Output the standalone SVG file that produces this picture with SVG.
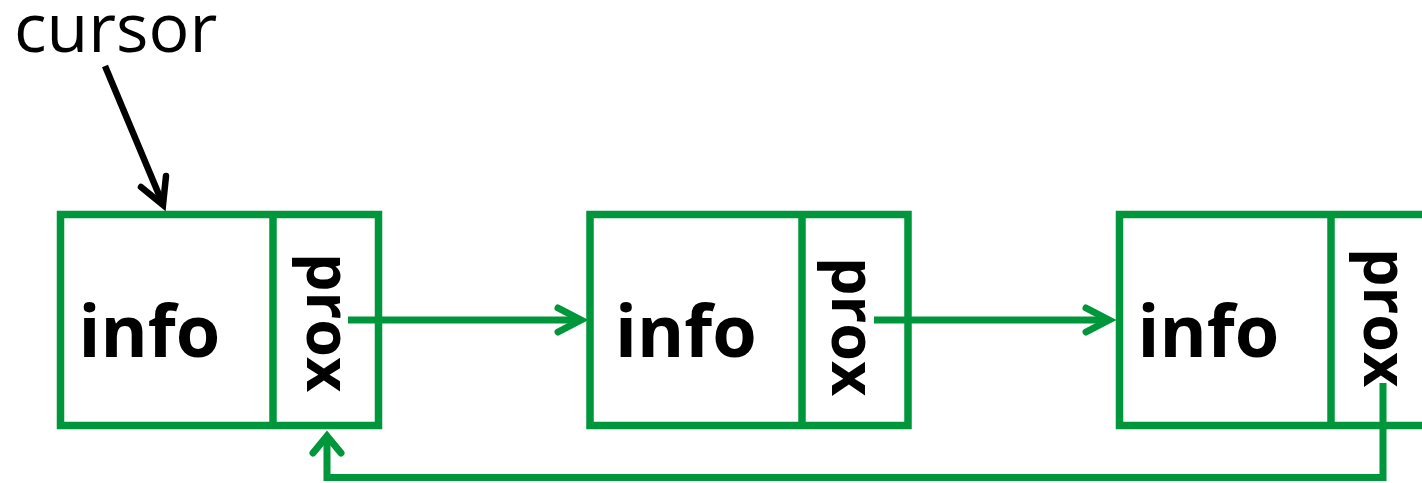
<svg xmlns="http://www.w3.org/2000/svg" width="1422" height="483" viewBox="0 0 1422 483">
<style>
.box{fill:#fff;stroke:#00963B;stroke-width:7.5}
.div{stroke:#00963B;stroke-width:7.5}
.info{font-family:"Open Sans","Noto Sans",sans-serif;font-weight:bold;font-size:72px;fill:#000}
.prox{font-family:"Open Sans","Noto Sans",sans-serif;font-weight:bold;font-size:61px;fill:#000}
.lbl{font-family:"Open Sans","Noto Sans",sans-serif;font-size:68px;fill:#000}
.gl{fill:none;stroke:#00963B;stroke-width:7;stroke-linejoin:miter}
.gh{fill:none;stroke:#00963B;stroke-width:7;stroke-linecap:round;stroke-linejoin:miter}
.bl{fill:none;stroke:#000;stroke-width:6.5}
.bh{fill:none;stroke:#000;stroke-width:6.5;stroke-linecap:round;stroke-linejoin:miter}
</style>
<rect width="1422" height="483" fill="#fff"/>
<g id="cursor">
<text class="lbl" x="14" y="52">cursor</text>
</g>
<g id="node1">
<rect class="box" x="60.5" y="214.5" width="318" height="211"/>
<line class="div" x1="273" y1="214.5" x2="273" y2="425.5"/>
<text class="info" x="78.5" y="357">info</text>
<text class="prox" transform="translate(307,253) rotate(90)">prox</text>
</g>
<g id="node2">
<rect class="box" x="590" y="214.5" width="318" height="211"/>
<line class="div" x1="802" y1="214.5" x2="802" y2="425.5"/>
<text class="info" x="615" y="357">info</text>
<text class="prox" transform="translate(832,257) rotate(90)">prox</text>
</g>
<g id="node3">
<rect class="box" x="1119.5" y="214.5" width="318" height="211"/>
<line class="div" x1="1331" y1="214.5" x2="1331" y2="425.5"/>
<text class="info" x="1137.5" y="357">info</text>
<text class="prox" transform="translate(1364,248) rotate(90)">prox</text>
</g>
<g id="connectors">
<line class="bl" x1="105" y1="66" x2="162" y2="202"/>
<polyline class="bh" points="141,187 163,205 166,176"/>
<line class="gl" x1="348" y1="320" x2="580" y2="320"/>
<polyline class="gh" points="558,308 581,320 558,332"/>
<line class="gl" x1="874" y1="320" x2="1109" y2="320"/>
<polyline class="gh" points="1086,308 1109,320 1086,332"/>
<polyline class="gl" points="1383,383 1383,477.5 327,477.5 327,437"/>
<polyline class="gh" points="313,453 327,436 341,453"/>
</g>
</svg>
